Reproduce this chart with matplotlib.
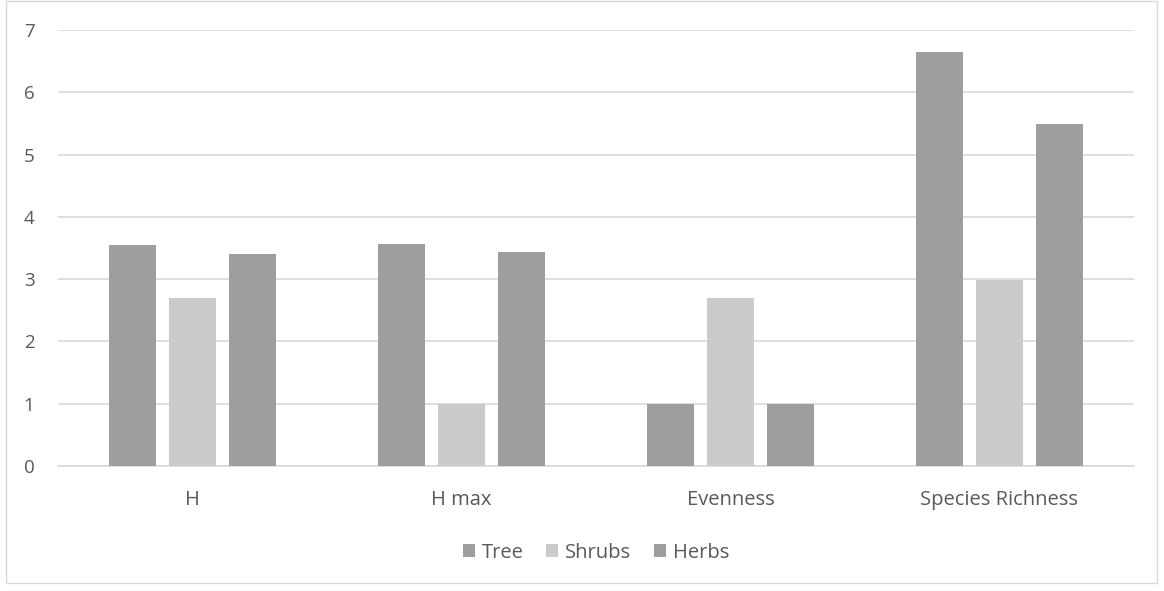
import numpy as np
import matplotlib.pyplot as plt
from matplotlib.patches import Rectangle

categories = ["H", "H max", "Evenness", "Species Richness"]
tree = [3.55, 3.56, 1.0, 6.64]
shrubs = [2.70, 1.0, 2.70, 2.98]
herbs = [3.41, 3.43, 1.0, 5.49]

plt.rcParams['font.family'] = ['Open Sans', 'DejaVu Sans']
text_col = '#595959'
grid_col = '#d9d9d9'

fig = plt.figure(figsize=(11.64, 5.91), dpi=100)
ax = fig.add_axes([58 / 1164, 1 - 466 / 591, (1134 - 58) / 1164, (466 - 30) / 591])

fig.patches.append(Rectangle((6 / 1164, 1 - 583 / 591), 1151 / 1164, 582 / 591,
                             transform=fig.transFigure, fill=False,
                             edgecolor=grid_col, lw=1))

x = np.arange(len(categories))
w = 0.175
step = 0.222
ax.bar(x - step, tree, w, color='#9e9e9e', label='Tree', zorder=3)
ax.bar(x, shrubs, w, color='#cbcbcb', label='Shrubs', zorder=3)
ax.bar(x + step, herbs, w, color='#9e9e9e', label='Herbs', zorder=3)

ax.set_xlim(-0.5, len(categories) - 0.5)
ax.set_ylim(0, 7)
ax.set_yticks(range(8))
ax.yaxis.grid(True, color=grid_col, lw=1.2, zorder=0)
for s in ['top', 'right', 'left']:
    ax.spines[s].set_visible(False)
ax.spines['bottom'].set_color(grid_col)
ax.spines['bottom'].set_linewidth(1.2)
ax.set_xticks(x)
ax.set_xticklabels(categories)
ax.tick_params(axis='both', length=0, colors=text_col)
ax.tick_params(axis='x', pad=17, labelsize=14.5)
ax.tick_params(axis='y', pad=17, labelsize=13.5)

leg = ax.legend(loc='upper center', bbox_to_anchor=(0.5, -0.135), ncol=3,
                frameon=False, fontsize=14.5, handlelength=0.6, handleheight=0.6,
                handletextpad=0.35, columnspacing=1.1)
for t in leg.get_texts():
    t.set_color(text_col)

fig.savefig('out.png', dpi=100)
